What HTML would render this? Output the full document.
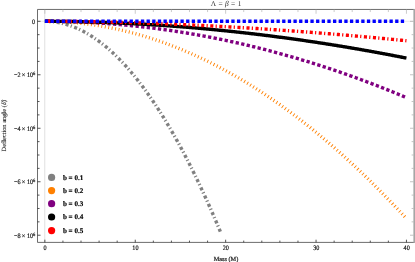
<!DOCTYPE html>
<html><head><meta charset="utf-8"><title>plot</title>
<style>html,body{margin:0;padding:0;background:#fff;}body{width:415px;height:262px;position:relative;overflow:hidden;font-family:"Liberation Serif",serif;}svg text{text-rendering:geometricPrecision;}</style>
</head><body>
<svg width="415" height="262" viewBox="0 0 415 262" style="position:absolute;left:0;top:0;will-change:transform;opacity:0.999">
<rect x="0" y="0" width="415" height="262" fill="#fff"/>
<line x1="44.75" y1="9.45" x2="44.75" y2="242.40" stroke="#d8d8d8" stroke-width="0.8"/>
<line x1="37.50" y1="21.30" x2="413.40" y2="21.30" stroke="#d8d8d8" stroke-width="0.6"/>
<path d="M44.85,21.30 L45.29,21.30 L45.73,21.31 L46.17,21.31 L46.61,21.32 L47.05,21.33 L47.49,21.35 L47.93,21.36 L48.38,21.38 L48.82,21.41 L49.26,21.43 L49.70,21.46 L50.14,21.49 L50.58,21.52 L51.02,21.56 L51.46,21.60 L51.90,21.64 L52.34,21.68 L52.78,21.73 L53.22,21.78 L53.66,21.83 L54.10,21.88 L54.55,21.94 L54.99,22.00 L55.43,22.06 L55.87,22.13 L56.31,22.20 L56.75,22.27 L57.19,22.34 L57.63,22.42 L58.07,22.49 L58.51,22.57 L58.95,22.66 L59.39,22.74 L59.83,22.83 L60.27,22.92 L60.72,23.02 L61.16,23.12 L61.60,23.21 L62.04,23.32 L62.48,23.42 L62.92,23.53 L63.36,23.64 L63.80,23.75 L64.24,23.87 L64.68,23.99 L65.12,24.11 L65.56,24.23 L66.00,24.36 L66.44,24.48 L66.88,24.62 L67.33,24.75 L67.77,24.89 L68.21,25.03 L68.65,25.17 L69.09,25.31 L69.53,25.46 L69.97,25.61 L70.41,25.76 L70.85,25.92 L71.29,26.07 L71.73,26.23 L72.17,26.40 L72.61,26.56 L73.05,26.73 L73.50,26.90 L73.94,27.08 L74.38,27.25 L74.82,27.43 L75.26,27.61 L75.70,27.80 L76.14,27.98 L76.58,28.17 L77.02,28.37 L77.46,28.56 L77.90,28.76 L78.34,28.96 L78.78,29.16 L79.22,29.37 L79.67,29.58 L80.11,29.79 L80.55,30.00 L80.99,30.22 L81.43,30.44 L81.87,30.66 L82.31,30.88 L82.75,31.11 L83.19,31.34 L83.63,31.57 L84.07,31.80 L84.51,32.04 L84.95,32.28 L85.39,32.52 L85.84,32.77 L86.28,33.02 L86.72,33.27 L87.16,33.52 L87.60,33.78 L88.04,34.04 L88.48,34.30 L88.92,34.56 L89.36,34.83 L89.80,35.10 L90.24,35.37 L90.68,35.64 L91.12,35.92 L91.56,36.20 L92.00,36.48 L92.45,36.77 L92.89,37.06 L93.33,37.35 L93.77,37.64 L94.21,37.93 L94.65,38.23 L95.09,38.53 L95.53,38.84 L95.97,39.14 L96.41,39.45 L96.85,39.76 L97.29,40.08 L97.73,40.40 L98.17,40.72 L98.62,41.04 L99.06,41.36 L99.50,41.69 L99.94,42.02 L100.38,42.35 L100.82,42.69 L101.26,43.03 L101.70,43.37 L102.14,43.71 L102.58,44.06 L103.02,44.41 L103.46,44.76 L103.90,45.11 L104.34,45.47 L104.79,45.83 L105.23,46.19 L105.67,46.55 L106.11,46.92 L106.55,47.29 L106.99,47.66 L107.43,48.04 L107.87,48.42 L108.31,48.80 L108.75,49.18 L109.19,49.57 L109.63,49.96 L110.07,50.35 L110.51,50.74 L110.95,51.14 L111.40,51.54 L111.84,51.94 L112.28,52.34 L112.72,52.75 L113.16,53.16 L113.60,53.57 L114.04,53.99 L114.48,54.41 L114.92,54.83 L115.36,55.25 L115.80,55.67 L116.24,56.10 L116.68,56.53 L117.12,56.97 L117.57,57.40 L118.01,57.84 L118.45,58.28 L118.89,58.73 L119.33,59.18 L119.77,59.62 L120.21,60.08 L120.65,60.53 L121.09,60.99 L121.53,61.45 L121.97,61.91 L122.41,62.38 L122.85,62.85 L123.29,63.32 L123.74,63.79 L124.18,64.27 L124.62,64.75 L125.06,65.23 L125.50,65.71 L125.94,66.20 L126.38,66.69 L126.82,67.18 L127.26,67.67 L127.70,68.17 L128.14,68.67 L128.58,69.17 L129.02,69.68 L129.46,70.19 L129.91,70.70 L130.35,71.21 L130.79,71.73 L131.23,72.24 L131.67,72.77 L132.11,73.29 L132.55,73.82 L132.99,74.34 L133.43,74.88 L133.87,75.41 L134.31,75.95 L134.75,76.49 L135.19,77.03 L135.63,77.58 L136.07,78.12 L136.52,78.67 L136.96,79.23 L137.40,79.78 L137.84,80.34 L138.28,80.90 L138.72,81.46 L139.16,82.03 L139.60,82.60 L140.04,83.17 L140.48,83.75 L140.92,84.32 L141.36,84.90 L141.80,85.48 L142.24,86.07 L142.69,86.66 L143.13,87.25 L143.57,87.84 L144.01,88.43 L144.45,89.03 L144.89,89.63 L145.33,90.24 L145.77,90.84 L146.21,91.45 L146.65,92.06 L147.09,92.68 L147.53,93.29 L147.97,93.91 L148.41,94.54 L148.86,95.16 L149.30,95.79 L149.74,96.42 L150.18,97.05 L150.62,97.68 L151.06,98.32 L151.50,98.96 L151.94,99.61 L152.38,100.25 L152.82,100.90 L153.26,101.55 L153.70,102.21 L154.14,102.86 L154.58,103.52 L155.02,104.18 L155.47,104.85 L155.91,105.51 L156.35,106.18 L156.79,106.86 L157.23,107.53 L157.67,108.21 L158.11,108.89 L158.55,109.57 L158.99,110.26 L159.43,110.95 L159.87,111.64 L160.31,112.33 L160.75,113.03 L161.19,113.73 L161.64,114.43 L162.08,115.13 L162.52,115.84 L162.96,116.55 L163.40,117.26 L163.84,117.97 L164.28,118.69 L164.72,119.41 L165.16,120.13 L165.60,120.86 L166.04,121.59 L166.48,122.32 L166.92,123.05 L167.36,123.79 L167.81,124.53 L168.25,125.27 L168.69,126.01 L169.13,126.76 L169.57,127.51 L170.01,128.26 L170.45,129.01 L170.89,129.77 L171.33,130.53 L171.77,131.29 L172.21,132.06 L172.65,132.83 L173.09,133.60 L173.53,134.37 L173.98,135.15 L174.42,135.92 L174.86,136.71 L175.30,137.49 L175.74,138.28 L176.18,139.06 L176.62,139.86 L177.06,140.65 L177.50,141.45 L177.94,142.25 L178.38,143.05 L178.82,143.85 L179.26,144.66 L179.70,145.47 L180.14,146.29 L180.59,147.10 L181.03,147.92 L181.47,148.74 L181.91,149.56 L182.35,150.39 L182.79,151.22 L183.23,152.05 L183.67,152.88 L184.11,153.72 L184.55,154.56 L184.99,155.40 L185.43,156.25 L185.87,157.09 L186.31,157.94 L186.76,158.80 L187.20,159.65 L187.64,160.51 L188.08,161.37 L188.52,162.23 L188.96,163.10 L189.40,163.97 L189.84,164.84 L190.28,165.71 L190.72,166.59 L191.16,167.47 L191.60,168.35 L192.04,169.24 L192.48,170.12 L192.93,171.01 L193.37,171.91 L193.81,172.80 L194.25,173.70 L194.69,174.60 L195.13,175.50 L195.57,176.41 L196.01,177.32 L196.45,178.23 L196.89,179.14 L197.33,180.06 L197.77,180.98 L198.21,181.90 L198.65,182.82 L199.09,183.75 L199.54,184.68 L199.98,185.61 L200.42,186.55 L200.86,187.48 L201.30,188.42 L201.74,189.37 L202.18,190.31 L202.62,191.26 L203.06,192.21 L203.50,193.17 L203.94,194.12 L204.38,195.08 L204.82,196.04 L205.26,197.01 L205.71,197.97 L206.15,198.94 L206.59,199.91 L207.03,200.89 L207.47,201.87 L207.91,202.85 L208.35,203.83 L208.79,204.81 L209.23,205.80 L209.67,206.79 L210.11,207.79 L210.55,208.78 L210.99,209.78 L211.43,210.78 L211.88,211.79 L212.32,212.79 L212.76,213.80 L213.20,214.81 L213.64,215.83 L214.08,216.84 L214.52,217.86 L214.96,218.89 L215.40,219.91 L215.84,220.94 L216.28,221.97 L216.72,223.00 L217.16,224.04 L217.60,225.08 L218.05,226.12 L218.49,227.16 L218.93,228.21 L219.37,229.26 L219.81,230.31 L220.25,231.36 L220.69,232.42 L221.13,233.48" fill="none" stroke="#808080" stroke-width="3.4" stroke-dasharray="3.1 2.22 1.2 2.54" stroke-dashoffset="6.15"/>
<path d="M44.85,21.30 L45.75,21.30 L46.66,21.30 L47.56,21.31 L48.47,21.32 L49.37,21.33 L50.27,21.34 L51.18,21.36 L52.08,21.38 L52.99,21.40 L53.89,21.42 L54.79,21.45 L55.70,21.48 L56.60,21.51 L57.51,21.54 L58.41,21.58 L59.31,21.62 L60.22,21.66 L61.12,21.70 L62.03,21.75 L62.93,21.79 L63.83,21.84 L64.74,21.90 L65.64,21.95 L66.55,22.01 L67.45,22.07 L68.35,22.13 L69.26,22.20 L70.16,22.27 L71.07,22.34 L71.97,22.41 L72.87,22.49 L73.78,22.56 L74.68,22.64 L75.59,22.73 L76.49,22.81 L77.39,22.90 L78.30,22.99 L79.20,23.08 L80.11,23.18 L81.01,23.27 L81.91,23.37 L82.82,23.48 L83.72,23.58 L84.63,23.69 L85.53,23.80 L86.43,23.91 L87.34,24.02 L88.24,24.14 L89.15,24.26 L90.05,24.38 L90.95,24.51 L91.86,24.63 L92.76,24.76 L93.67,24.90 L94.57,25.03 L95.47,25.17 L96.38,25.31 L97.28,25.45 L98.19,25.59 L99.09,25.74 L99.99,25.89 L100.90,26.04 L101.80,26.19 L102.71,26.35 L103.61,26.51 L104.51,26.67 L105.42,26.84 L106.32,27.00 L107.23,27.17 L108.13,27.34 L109.03,27.52 L109.94,27.69 L110.84,27.87 L111.75,28.05 L112.65,28.24 L113.55,28.42 L114.46,28.61 L115.36,28.80 L116.27,29.00 L117.17,29.19 L118.07,29.39 L118.98,29.59 L119.88,29.79 L120.79,30.00 L121.69,30.21 L122.59,30.42 L123.50,30.63 L124.40,30.85 L125.31,31.07 L126.21,31.29 L127.11,31.51 L128.02,31.74 L128.92,31.97 L129.83,32.20 L130.73,32.43 L131.63,32.66 L132.54,32.90 L133.44,33.14 L134.35,33.39 L135.25,33.63 L136.15,33.88 L137.06,34.13 L137.96,34.38 L138.87,34.64 L139.77,34.90 L140.67,35.16 L141.58,35.42 L142.48,35.68 L143.39,35.95 L144.29,36.22 L145.19,36.49 L146.10,36.77 L147.00,37.05 L147.91,37.33 L148.81,37.61 L149.71,37.89 L150.62,38.18 L151.52,38.47 L152.43,38.76 L153.33,39.06 L154.23,39.35 L155.14,39.65 L156.04,39.96 L156.95,40.26 L157.85,40.57 L158.75,40.88 L159.66,41.19 L160.56,41.50 L161.47,41.82 L162.37,42.14 L163.27,42.46 L164.18,42.79 L165.08,43.11 L165.99,43.44 L166.89,43.77 L167.79,44.11 L168.70,44.44 L169.60,44.78 L170.51,45.13 L171.41,45.47 L172.31,45.82 L173.22,46.16 L174.12,46.52 L175.03,46.87 L175.93,47.23 L176.83,47.59 L177.74,47.95 L178.64,48.31 L179.55,48.68 L180.45,49.05 L181.35,49.42 L182.26,49.79 L183.16,50.17 L184.07,50.54 L184.97,50.93 L185.87,51.31 L186.78,51.70 L187.68,52.08 L188.59,52.47 L189.49,52.87 L190.39,53.26 L191.30,53.66 L192.20,54.06 L193.11,54.47 L194.01,54.87 L194.91,55.28 L195.82,55.69 L196.72,56.10 L197.63,56.52 L198.53,56.94 L199.43,57.36 L200.34,57.78 L201.24,58.21 L202.15,58.63 L203.05,59.06 L203.95,59.50 L204.86,59.93 L205.76,60.37 L206.67,60.81 L207.57,61.25 L208.47,61.70 L209.38,62.15 L210.28,62.60 L211.19,63.05 L212.09,63.50 L212.99,63.96 L213.90,64.42 L214.80,64.88 L215.71,65.35 L216.61,65.82 L217.51,66.29 L218.42,66.76 L219.32,67.23 L220.23,67.71 L221.13,68.19 L222.03,68.67 L222.94,69.16 L223.84,69.64 L224.75,70.13 L225.65,70.62 L226.55,71.12 L227.46,71.62 L228.36,72.12 L229.27,72.62 L230.17,73.12 L231.07,73.63 L231.98,74.14 L232.88,74.65 L233.79,75.16 L234.69,75.68 L235.59,76.20 L236.50,76.72 L237.40,77.25 L238.31,77.77 L239.21,78.30 L240.11,78.83 L241.02,79.37 L241.92,79.90 L242.83,80.44 L243.73,80.98 L244.63,81.53 L245.54,82.07 L246.44,82.62 L247.35,83.17 L248.25,83.73 L249.15,84.28 L250.06,84.84 L250.96,85.40 L251.87,85.97 L252.77,86.53 L253.67,87.10 L254.58,87.67 L255.48,88.25 L256.39,88.82 L257.29,89.40 L258.19,89.98 L259.10,90.56 L260.00,91.15 L260.91,91.74 L261.81,92.33 L262.71,92.92 L263.62,93.52 L264.52,94.11 L265.43,94.72 L266.33,95.32 L267.23,95.92 L268.14,96.53 L269.04,97.14 L269.95,97.75 L270.85,98.37 L271.75,98.99 L272.66,99.61 L273.56,100.23 L274.47,100.86 L275.37,101.48 L276.27,102.11 L277.18,102.75 L278.08,103.38 L278.99,104.02 L279.89,104.66 L280.79,105.30 L281.70,105.95 L282.60,106.59 L283.51,107.24 L284.41,107.90 L285.31,108.55 L286.22,109.21 L287.12,109.87 L288.03,110.53 L288.93,111.19 L289.83,111.86 L290.74,112.53 L291.64,113.20 L292.55,113.88 L293.45,114.56 L294.35,115.23 L295.26,115.92 L296.16,116.60 L297.07,117.29 L297.97,117.98 L298.87,118.67 L299.78,119.36 L300.68,120.06 L301.59,120.76 L302.49,121.46 L303.39,122.16 L304.30,122.87 L305.20,123.58 L306.11,124.29 L307.01,125.01 L307.91,125.72 L308.82,126.44 L309.72,127.16 L310.63,127.89 L311.53,128.61 L312.43,129.34 L313.34,130.07 L314.24,130.81 L315.15,131.54 L316.05,132.28 L316.95,133.02 L317.86,133.77 L318.76,134.51 L319.67,135.26 L320.57,136.01 L321.47,136.76 L322.38,137.52 L323.28,138.28 L324.19,139.04 L325.09,139.80 L325.99,140.57 L326.90,141.34 L327.80,142.11 L328.71,142.88 L329.61,143.66 L330.51,144.43 L331.42,145.22 L332.32,146.00 L333.23,146.78 L334.13,147.57 L335.03,148.36 L335.94,149.16 L336.84,149.95 L337.75,150.75 L338.65,151.55 L339.55,152.35 L340.46,153.16 L341.36,153.96 L342.27,154.77 L343.17,155.59 L344.07,156.40 L344.98,157.22 L345.88,158.04 L346.79,158.86 L347.69,159.69 L348.59,160.51 L349.50,161.34 L350.40,162.18 L351.31,163.01 L352.21,163.85 L353.11,164.69 L354.02,165.53 L354.92,166.38 L355.83,167.22 L356.73,168.07 L357.63,168.92 L358.54,169.78 L359.44,170.64 L360.35,171.50 L361.25,172.36 L362.15,173.22 L363.06,174.09 L363.96,174.96 L364.87,175.83 L365.77,176.70 L366.67,177.58 L367.58,178.46 L368.48,179.34 L369.39,180.23 L370.29,181.11 L371.19,182.00 L372.10,182.89 L373.00,183.79 L373.91,184.68 L374.81,185.58 L375.71,186.48 L376.62,187.39 L377.52,188.29 L378.43,189.20 L379.33,190.11 L380.23,191.03 L381.14,191.94 L382.04,192.86 L382.95,193.78 L383.85,194.71 L384.75,195.63 L385.66,196.56 L386.56,197.49 L387.47,198.43 L388.37,199.36 L389.27,200.30 L390.18,201.24 L391.08,202.19 L391.99,203.13 L392.89,204.08 L393.79,205.03 L394.70,205.98 L395.60,206.94 L396.51,207.90 L397.41,208.86 L398.31,209.82 L399.22,210.79 L400.12,211.75 L401.03,212.73 L401.93,213.70 L402.83,214.67 L403.74,215.65 L404.64,216.63 L405.55,217.61 L406.45,218.60" fill="none" stroke="#ff8000" stroke-width="3.4" stroke-dasharray="0.9 2.6" stroke-dashoffset="2.71"/>
<path d="M44.85,21.30 L45.75,21.30 L46.66,21.30 L47.56,21.30 L48.47,21.31 L49.37,21.31 L50.27,21.32 L51.18,21.32 L52.08,21.33 L52.99,21.34 L53.89,21.35 L54.79,21.36 L55.70,21.37 L56.60,21.38 L57.51,21.39 L58.41,21.41 L59.31,21.42 L60.22,21.44 L61.12,21.45 L62.03,21.47 L62.93,21.49 L63.83,21.51 L64.74,21.53 L65.64,21.55 L66.55,21.57 L67.45,21.60 L68.35,21.62 L69.26,21.65 L70.16,21.67 L71.07,21.70 L71.97,21.73 L72.87,21.76 L73.78,21.79 L74.68,21.82 L75.59,21.85 L76.49,21.88 L77.39,21.92 L78.30,21.95 L79.20,21.99 L80.11,22.03 L81.01,22.06 L81.91,22.10 L82.82,22.14 L83.72,22.18 L84.63,22.22 L85.53,22.27 L86.43,22.31 L87.34,22.35 L88.24,22.40 L89.15,22.44 L90.05,22.49 L90.95,22.54 L91.86,22.59 L92.76,22.64 L93.67,22.69 L94.57,22.74 L95.47,22.80 L96.38,22.85 L97.28,22.90 L98.19,22.96 L99.09,23.02 L99.99,23.07 L100.90,23.13 L101.80,23.19 L102.71,23.25 L103.61,23.31 L104.51,23.38 L105.42,23.44 L106.32,23.51 L107.23,23.57 L108.13,23.64 L109.03,23.70 L109.94,23.77 L110.84,23.84 L111.75,23.91 L112.65,23.98 L113.55,24.05 L114.46,24.13 L115.36,24.20 L116.27,24.28 L117.17,24.35 L118.07,24.43 L118.98,24.51 L119.88,24.59 L120.79,24.66 L121.69,24.75 L122.59,24.83 L123.50,24.91 L124.40,24.99 L125.31,25.08 L126.21,25.16 L127.11,25.25 L128.02,25.34 L128.92,25.42 L129.83,25.51 L130.73,25.60 L131.63,25.69 L132.54,25.79 L133.44,25.88 L134.35,25.97 L135.25,26.07 L136.15,26.16 L137.06,26.26 L137.96,26.36 L138.87,26.46 L139.77,26.56 L140.67,26.66 L141.58,26.76 L142.48,26.86 L143.39,26.97 L144.29,27.07 L145.19,27.18 L146.10,27.28 L147.00,27.39 L147.91,27.50 L148.81,27.61 L149.71,27.72 L150.62,27.83 L151.52,27.94 L152.43,28.05 L153.33,28.17 L154.23,28.28 L155.14,28.40 L156.04,28.51 L156.95,28.63 L157.85,28.75 L158.75,28.87 L159.66,28.99 L160.56,29.11 L161.47,29.24 L162.37,29.36 L163.27,29.48 L164.18,29.61 L165.08,29.74 L165.99,29.86 L166.89,29.99 L167.79,30.12 L168.70,30.25 L169.60,30.38 L170.51,30.51 L171.41,30.65 L172.31,30.78 L173.22,30.92 L174.12,31.05 L175.03,31.19 L175.93,31.33 L176.83,31.47 L177.74,31.60 L178.64,31.75 L179.55,31.89 L180.45,32.03 L181.35,32.17 L182.26,32.32 L183.16,32.46 L184.07,32.61 L184.97,32.76 L185.87,32.91 L186.78,33.05 L187.68,33.20 L188.59,33.36 L189.49,33.51 L190.39,33.66 L191.30,33.82 L192.20,33.97 L193.11,34.13 L194.01,34.28 L194.91,34.44 L195.82,34.60 L196.72,34.76 L197.63,34.92 L198.53,35.08 L199.43,35.24 L200.34,35.41 L201.24,35.57 L202.15,35.74 L203.05,35.90 L203.95,36.07 L204.86,36.24 L205.76,36.41 L206.67,36.58 L207.57,36.75 L208.47,36.92 L209.38,37.10 L210.28,37.27 L211.19,37.45 L212.09,37.62 L212.99,37.80 L213.90,37.98 L214.80,38.15 L215.71,38.33 L216.61,38.52 L217.51,38.70 L218.42,38.88 L219.32,39.06 L220.23,39.25 L221.13,39.43 L222.03,39.62 L222.94,39.81 L223.84,40.00 L224.75,40.18 L225.65,40.38 L226.55,40.57 L227.46,40.76 L228.36,40.95 L229.27,41.15 L230.17,41.34 L231.07,41.54 L231.98,41.73 L232.88,41.93 L233.79,42.13 L234.69,42.33 L235.59,42.53 L236.50,42.73 L237.40,42.94 L238.31,43.14 L239.21,43.34 L240.11,43.55 L241.02,43.76 L241.92,43.96 L242.83,44.17 L243.73,44.38 L244.63,44.59 L245.54,44.80 L246.44,45.01 L247.35,45.23 L248.25,45.44 L249.15,45.66 L250.06,45.87 L250.96,46.09 L251.87,46.31 L252.77,46.53 L253.67,46.75 L254.58,46.97 L255.48,47.19 L256.39,47.41 L257.29,47.64 L258.19,47.86 L259.10,48.09 L260.00,48.31 L260.91,48.54 L261.81,48.77 L262.71,49.00 L263.62,49.23 L264.52,49.46 L265.43,49.69 L266.33,49.92 L267.23,50.16 L268.14,50.39 L269.04,50.63 L269.95,50.87 L270.85,51.10 L271.75,51.34 L272.66,51.58 L273.56,51.82 L274.47,52.07 L275.37,52.31 L276.27,52.55 L277.18,52.80 L278.08,53.04 L278.99,53.29 L279.89,53.54 L280.79,53.79 L281.70,54.03 L282.60,54.28 L283.51,54.54 L284.41,54.79 L285.31,55.04 L286.22,55.30 L287.12,55.55 L288.03,55.81 L288.93,56.06 L289.83,56.32 L290.74,56.58 L291.64,56.84 L292.55,57.10 L293.45,57.36 L294.35,57.63 L295.26,57.89 L296.16,58.15 L297.07,58.42 L297.97,58.69 L298.87,58.95 L299.78,59.22 L300.68,59.49 L301.59,59.76 L302.49,60.03 L303.39,60.31 L304.30,60.58 L305.20,60.85 L306.11,61.13 L307.01,61.41 L307.91,61.68 L308.82,61.96 L309.72,62.24 L310.63,62.52 L311.53,62.80 L312.43,63.08 L313.34,63.36 L314.24,63.65 L315.15,63.93 L316.05,64.22 L316.95,64.51 L317.86,64.79 L318.76,65.08 L319.67,65.37 L320.57,65.66 L321.47,65.95 L322.38,66.24 L323.28,66.54 L324.19,66.83 L325.09,67.13 L325.99,67.42 L326.90,67.72 L327.80,68.02 L328.71,68.32 L329.61,68.62 L330.51,68.92 L331.42,69.22 L332.32,69.52 L333.23,69.83 L334.13,70.13 L335.03,70.44 L335.94,70.74 L336.84,71.05 L337.75,71.36 L338.65,71.67 L339.55,71.98 L340.46,72.29 L341.36,72.60 L342.27,72.92 L343.17,73.23 L344.07,73.55 L344.98,73.86 L345.88,74.18 L346.79,74.50 L347.69,74.82 L348.59,75.14 L349.50,75.46 L350.40,75.78 L351.31,76.10 L352.21,76.43 L353.11,76.75 L354.02,77.08 L354.92,77.40 L355.83,77.73 L356.73,78.06 L357.63,78.39 L358.54,78.72 L359.44,79.05 L360.35,79.38 L361.25,79.72 L362.15,80.05 L363.06,80.39 L363.96,80.72 L364.87,81.06 L365.77,81.40 L366.67,81.74 L367.58,82.08 L368.48,82.42 L369.39,82.76 L370.29,83.10 L371.19,83.45 L372.10,83.79 L373.00,84.14 L373.91,84.48 L374.81,84.83 L375.71,85.18 L376.62,85.53 L377.52,85.88 L378.43,86.23 L379.33,86.58 L380.23,86.94 L381.14,87.29 L382.04,87.65 L382.95,88.00 L383.85,88.36 L384.75,88.72 L385.66,89.08 L386.56,89.44 L387.47,89.80 L388.37,90.16 L389.27,90.52 L390.18,90.89 L391.08,91.25 L391.99,91.62 L392.89,91.98 L393.79,92.35 L394.70,92.72 L395.60,93.09 L396.51,93.46 L397.41,93.83 L398.31,94.21 L399.22,94.58 L400.12,94.95 L401.03,95.33 L401.93,95.70 L402.83,96.08 L403.74,96.46 L404.64,96.84 L405.55,97.22 L406.45,97.60" fill="none" stroke="#800080" stroke-width="3.4" stroke-dasharray="3.3 2.34" stroke-dashoffset="5.05"/>
<path d="M44.85,21.30 L45.75,21.30 L46.66,21.30 L47.56,21.30 L48.47,21.30 L49.37,21.31 L50.27,21.31 L51.18,21.31 L52.08,21.32 L52.99,21.32 L53.89,21.33 L54.79,21.33 L55.70,21.34 L56.60,21.35 L57.51,21.35 L58.41,21.36 L59.31,21.37 L60.22,21.38 L61.12,21.39 L62.03,21.40 L62.93,21.41 L63.83,21.42 L64.74,21.43 L65.64,21.44 L66.55,21.45 L67.45,21.47 L68.35,21.48 L69.26,21.49 L70.16,21.51 L71.07,21.52 L71.97,21.54 L72.87,21.55 L73.78,21.57 L74.68,21.58 L75.59,21.60 L76.49,21.62 L77.39,21.64 L78.30,21.65 L79.20,21.67 L80.11,21.69 L81.01,21.71 L81.91,21.73 L82.82,21.75 L83.72,21.78 L84.63,21.80 L85.53,21.82 L86.43,21.84 L87.34,21.87 L88.24,21.89 L89.15,21.91 L90.05,21.94 L90.95,21.96 L91.86,21.99 L92.76,22.01 L93.67,22.04 L94.57,22.07 L95.47,22.10 L96.38,22.12 L97.28,22.15 L98.19,22.18 L99.09,22.21 L99.99,22.24 L100.90,22.27 L101.80,22.30 L102.71,22.33 L103.61,22.36 L104.51,22.40 L105.42,22.43 L106.32,22.46 L107.23,22.50 L108.13,22.53 L109.03,22.56 L109.94,22.60 L110.84,22.63 L111.75,22.67 L112.65,22.71 L113.55,22.74 L114.46,22.78 L115.36,22.82 L116.27,22.86 L117.17,22.90 L118.07,22.93 L118.98,22.97 L119.88,23.01 L120.79,23.05 L121.69,23.10 L122.59,23.14 L123.50,23.18 L124.40,23.22 L125.31,23.26 L126.21,23.31 L127.11,23.35 L128.02,23.40 L128.92,23.44 L129.83,23.48 L130.73,23.53 L131.63,23.58 L132.54,23.62 L133.44,23.67 L134.35,23.72 L135.25,23.77 L136.15,23.81 L137.06,23.86 L137.96,23.91 L138.87,23.96 L139.77,24.01 L140.67,24.06 L141.58,24.11 L142.48,24.16 L143.39,24.22 L144.29,24.27 L145.19,24.32 L146.10,24.37 L147.00,24.43 L147.91,24.48 L148.81,24.54 L149.71,24.59 L150.62,24.65 L151.52,24.70 L152.43,24.76 L153.33,24.82 L154.23,24.87 L155.14,24.93 L156.04,24.99 L156.95,25.05 L157.85,25.11 L158.75,25.17 L159.66,25.23 L160.56,25.29 L161.47,25.35 L162.37,25.41 L163.27,25.47 L164.18,25.54 L165.08,25.60 L165.99,25.66 L166.89,25.73 L167.79,25.79 L168.70,25.85 L169.60,25.92 L170.51,25.99 L171.41,26.05 L172.31,26.12 L173.22,26.18 L174.12,26.25 L175.03,26.32 L175.93,26.39 L176.83,26.46 L177.74,26.53 L178.64,26.59 L179.55,26.66 L180.45,26.74 L181.35,26.81 L182.26,26.88 L183.16,26.95 L184.07,27.02 L184.97,27.09 L185.87,27.17 L186.78,27.24 L187.68,27.31 L188.59,27.39 L189.49,27.46 L190.39,27.54 L191.30,27.62 L192.20,27.69 L193.11,27.77 L194.01,27.85 L194.91,27.92 L195.82,28.00 L196.72,28.08 L197.63,28.16 L198.53,28.24 L199.43,28.32 L200.34,28.40 L201.24,28.48 L202.15,28.56 L203.05,28.64 L203.95,28.72 L204.86,28.81 L205.76,28.89 L206.67,28.97 L207.57,29.06 L208.47,29.14 L209.38,29.22 L210.28,29.31 L211.19,29.40 L212.09,29.48 L212.99,29.57 L213.90,29.65 L214.80,29.74 L215.71,29.83 L216.61,29.92 L217.51,30.01 L218.42,30.10 L219.32,30.19 L220.23,30.28 L221.13,30.37 L222.03,30.46 L222.94,30.55 L223.84,30.64 L224.75,30.73 L225.65,30.82 L226.55,30.92 L227.46,31.01 L228.36,31.11 L229.27,31.20 L230.17,31.29 L231.07,31.39 L231.98,31.49 L232.88,31.58 L233.79,31.68 L234.69,31.78 L235.59,31.87 L236.50,31.97 L237.40,32.07 L238.31,32.17 L239.21,32.27 L240.11,32.37 L241.02,32.47 L241.92,32.57 L242.83,32.67 L243.73,32.77 L244.63,32.87 L245.54,32.97 L246.44,33.08 L247.35,33.18 L248.25,33.28 L249.15,33.39 L250.06,33.49 L250.96,33.60 L251.87,33.70 L252.77,33.81 L253.67,33.91 L254.58,34.02 L255.48,34.13 L256.39,34.24 L257.29,34.34 L258.19,34.45 L259.10,34.56 L260.00,34.67 L260.91,34.78 L261.81,34.89 L262.71,35.00 L263.62,35.11 L264.52,35.22 L265.43,35.34 L266.33,35.45 L267.23,35.56 L268.14,35.67 L269.04,35.79 L269.95,35.90 L270.85,36.02 L271.75,36.13 L272.66,36.25 L273.56,36.36 L274.47,36.48 L275.37,36.60 L276.27,36.71 L277.18,36.83 L278.08,36.95 L278.99,37.07 L279.89,37.19 L280.79,37.31 L281.70,37.43 L282.60,37.55 L283.51,37.67 L284.41,37.79 L285.31,37.91 L286.22,38.03 L287.12,38.15 L288.03,38.28 L288.93,38.40 L289.83,38.52 L290.74,38.65 L291.64,38.77 L292.55,38.90 L293.45,39.02 L294.35,39.15 L295.26,39.27 L296.16,39.40 L297.07,39.53 L297.97,39.66 L298.87,39.78 L299.78,39.91 L300.68,40.04 L301.59,40.17 L302.49,40.30 L303.39,40.43 L304.30,40.56 L305.20,40.69 L306.11,40.82 L307.01,40.96 L307.91,41.09 L308.82,41.22 L309.72,41.36 L310.63,41.49 L311.53,41.62 L312.43,41.76 L313.34,41.89 L314.24,42.03 L315.15,42.16 L316.05,42.30 L316.95,42.44 L317.86,42.57 L318.76,42.71 L319.67,42.85 L320.57,42.99 L321.47,43.13 L322.38,43.27 L323.28,43.41 L324.19,43.55 L325.09,43.69 L325.99,43.83 L326.90,43.97 L327.80,44.11 L328.71,44.25 L329.61,44.40 L330.51,44.54 L331.42,44.68 L332.32,44.83 L333.23,44.97 L334.13,45.12 L335.03,45.26 L335.94,45.41 L336.84,45.55 L337.75,45.70 L338.65,45.85 L339.55,45.99 L340.46,46.14 L341.36,46.29 L342.27,46.44 L343.17,46.59 L344.07,46.74 L344.98,46.89 L345.88,47.04 L346.79,47.19 L347.69,47.34 L348.59,47.49 L349.50,47.65 L350.40,47.80 L351.31,47.95 L352.21,48.10 L353.11,48.26 L354.02,48.41 L354.92,48.57 L355.83,48.72 L356.73,48.88 L357.63,49.04 L358.54,49.19 L359.44,49.35 L360.35,49.51 L361.25,49.66 L362.15,49.82 L363.06,49.98 L363.96,50.14 L364.87,50.30 L365.77,50.46 L366.67,50.62 L367.58,50.78 L368.48,50.94 L369.39,51.10 L370.29,51.27 L371.19,51.43 L372.10,51.59 L373.00,51.75 L373.91,51.92 L374.81,52.08 L375.71,52.25 L376.62,52.41 L377.52,52.58 L378.43,52.74 L379.33,52.91 L380.23,53.08 L381.14,53.24 L382.04,53.41 L382.95,53.58 L383.85,53.75 L384.75,53.92 L385.66,54.09 L386.56,54.26 L387.47,54.43 L388.37,54.60 L389.27,54.77 L390.18,54.94 L391.08,55.11 L391.99,55.28 L392.89,55.46 L393.79,55.63 L394.70,55.80 L395.60,55.98 L396.51,56.15 L397.41,56.33 L398.31,56.50 L399.22,56.68 L400.12,56.85 L401.03,57.03 L401.93,57.21 L402.83,57.39 L403.74,57.56 L404.64,57.74 L405.55,57.92 L406.45,58.10" fill="none" stroke="#000000" stroke-width="3.4" />
<path d="M44.85,21.30 L45.75,21.30 L46.66,21.30 L47.56,21.30 L48.47,21.30 L49.37,21.31 L50.27,21.31 L51.18,21.31 L52.08,21.31 L52.99,21.32 L53.89,21.32 L54.79,21.33 L55.70,21.33 L56.60,21.33 L57.51,21.34 L58.41,21.34 L59.31,21.35 L60.22,21.36 L61.12,21.36 L62.03,21.37 L62.93,21.38 L63.83,21.38 L64.74,21.39 L65.64,21.40 L66.55,21.41 L67.45,21.42 L68.35,21.42 L69.26,21.43 L70.16,21.44 L71.07,21.45 L71.97,21.46 L72.87,21.47 L73.78,21.48 L74.68,21.49 L75.59,21.50 L76.49,21.51 L77.39,21.53 L78.30,21.54 L79.20,21.55 L80.11,21.56 L81.01,21.57 L81.91,21.59 L82.82,21.60 L83.72,21.61 L84.63,21.63 L85.53,21.64 L86.43,21.66 L87.34,21.67 L88.24,21.68 L89.15,21.70 L90.05,21.72 L90.95,21.73 L91.86,21.75 L92.76,21.76 L93.67,21.78 L94.57,21.80 L95.47,21.81 L96.38,21.83 L97.28,21.85 L98.19,21.86 L99.09,21.88 L99.99,21.90 L100.90,21.92 L101.80,21.94 L102.71,21.96 L103.61,21.97 L104.51,21.99 L105.42,22.01 L106.32,22.03 L107.23,22.05 L108.13,22.07 L109.03,22.09 L109.94,22.12 L110.84,22.14 L111.75,22.16 L112.65,22.18 L113.55,22.20 L114.46,22.22 L115.36,22.25 L116.27,22.27 L117.17,22.29 L118.07,22.31 L118.98,22.34 L119.88,22.36 L120.79,22.38 L121.69,22.41 L122.59,22.43 L123.50,22.46 L124.40,22.48 L125.31,22.51 L126.21,22.53 L127.11,22.56 L128.02,22.58 L128.92,22.61 L129.83,22.63 L130.73,22.66 L131.63,22.69 L132.54,22.71 L133.44,22.74 L134.35,22.77 L135.25,22.80 L136.15,22.82 L137.06,22.85 L137.96,22.88 L138.87,22.91 L139.77,22.94 L140.67,22.97 L141.58,23.00 L142.48,23.03 L143.39,23.06 L144.29,23.09 L145.19,23.12 L146.10,23.15 L147.00,23.18 L147.91,23.21 L148.81,23.24 L149.71,23.27 L150.62,23.30 L151.52,23.33 L152.43,23.36 L153.33,23.40 L154.23,23.43 L155.14,23.46 L156.04,23.49 L156.95,23.53 L157.85,23.56 L158.75,23.60 L159.66,23.63 L160.56,23.66 L161.47,23.70 L162.37,23.73 L163.27,23.77 L164.18,23.80 L165.08,23.84 L165.99,23.87 L166.89,23.91 L167.79,23.94 L168.70,23.98 L169.60,24.02 L170.51,24.05 L171.41,24.09 L172.31,24.13 L173.22,24.16 L174.12,24.20 L175.03,24.24 L175.93,24.28 L176.83,24.31 L177.74,24.35 L178.64,24.39 L179.55,24.43 L180.45,24.47 L181.35,24.51 L182.26,24.55 L183.16,24.59 L184.07,24.63 L184.97,24.67 L185.87,24.71 L186.78,24.75 L187.68,24.79 L188.59,24.83 L189.49,24.87 L190.39,24.91 L191.30,24.95 L192.20,25.00 L193.11,25.04 L194.01,25.08 L194.91,25.12 L195.82,25.16 L196.72,25.21 L197.63,25.25 L198.53,25.29 L199.43,25.34 L200.34,25.38 L201.24,25.43 L202.15,25.47 L203.05,25.51 L203.95,25.56 L204.86,25.60 L205.76,25.65 L206.67,25.69 L207.57,25.74 L208.47,25.79 L209.38,25.83 L210.28,25.88 L211.19,25.92 L212.09,25.97 L212.99,26.02 L213.90,26.06 L214.80,26.11 L215.71,26.16 L216.61,26.21 L217.51,26.25 L218.42,26.30 L219.32,26.35 L220.23,26.40 L221.13,26.45 L222.03,26.50 L222.94,26.55 L223.84,26.60 L224.75,26.65 L225.65,26.70 L226.55,26.75 L227.46,26.80 L228.36,26.85 L229.27,26.90 L230.17,26.95 L231.07,27.00 L231.98,27.05 L232.88,27.10 L233.79,27.15 L234.69,27.20 L235.59,27.26 L236.50,27.31 L237.40,27.36 L238.31,27.41 L239.21,27.47 L240.11,27.52 L241.02,27.57 L241.92,27.63 L242.83,27.68 L243.73,27.74 L244.63,27.79 L245.54,27.84 L246.44,27.90 L247.35,27.95 L248.25,28.01 L249.15,28.06 L250.06,28.12 L250.96,28.18 L251.87,28.23 L252.77,28.29 L253.67,28.34 L254.58,28.40 L255.48,28.46 L256.39,28.51 L257.29,28.57 L258.19,28.63 L259.10,28.69 L260.00,28.74 L260.91,28.80 L261.81,28.86 L262.71,28.92 L263.62,28.98 L264.52,29.04 L265.43,29.09 L266.33,29.15 L267.23,29.21 L268.14,29.27 L269.04,29.33 L269.95,29.39 L270.85,29.45 L271.75,29.51 L272.66,29.57 L273.56,29.63 L274.47,29.70 L275.37,29.76 L276.27,29.82 L277.18,29.88 L278.08,29.94 L278.99,30.00 L279.89,30.07 L280.79,30.13 L281.70,30.19 L282.60,30.25 L283.51,30.32 L284.41,30.38 L285.31,30.44 L286.22,30.51 L287.12,30.57 L288.03,30.64 L288.93,30.70 L289.83,30.76 L290.74,30.83 L291.64,30.89 L292.55,30.96 L293.45,31.02 L294.35,31.09 L295.26,31.16 L296.16,31.22 L297.07,31.29 L297.97,31.35 L298.87,31.42 L299.78,31.49 L300.68,31.55 L301.59,31.62 L302.49,31.69 L303.39,31.76 L304.30,31.82 L305.20,31.89 L306.11,31.96 L307.01,32.03 L307.91,32.10 L308.82,32.17 L309.72,32.23 L310.63,32.30 L311.53,32.37 L312.43,32.44 L313.34,32.51 L314.24,32.58 L315.15,32.65 L316.05,32.72 L316.95,32.79 L317.86,32.86 L318.76,32.94 L319.67,33.01 L320.57,33.08 L321.47,33.15 L322.38,33.22 L323.28,33.29 L324.19,33.37 L325.09,33.44 L325.99,33.51 L326.90,33.58 L327.80,33.66 L328.71,33.73 L329.61,33.80 L330.51,33.88 L331.42,33.95 L332.32,34.02 L333.23,34.10 L334.13,34.17 L335.03,34.25 L335.94,34.32 L336.84,34.40 L337.75,34.47 L338.65,34.55 L339.55,34.62 L340.46,34.70 L341.36,34.77 L342.27,34.85 L343.17,34.93 L344.07,35.00 L344.98,35.08 L345.88,35.16 L346.79,35.23 L347.69,35.31 L348.59,35.39 L349.50,35.47 L350.40,35.54 L351.31,35.62 L352.21,35.70 L353.11,35.78 L354.02,35.86 L354.92,35.94 L355.83,36.01 L356.73,36.09 L357.63,36.17 L358.54,36.25 L359.44,36.33 L360.35,36.41 L361.25,36.49 L362.15,36.57 L363.06,36.65 L363.96,36.73 L364.87,36.82 L365.77,36.90 L366.67,36.98 L367.58,37.06 L368.48,37.14 L369.39,37.22 L370.29,37.31 L371.19,37.39 L372.10,37.47 L373.00,37.55 L373.91,37.64 L374.81,37.72 L375.71,37.80 L376.62,37.89 L377.52,37.97 L378.43,38.05 L379.33,38.14 L380.23,38.22 L381.14,38.31 L382.04,38.39 L382.95,38.48 L383.85,38.56 L384.75,38.65 L385.66,38.73 L386.56,38.82 L387.47,38.90 L388.37,38.99 L389.27,39.08 L390.18,39.16 L391.08,39.25 L391.99,39.34 L392.89,39.42 L393.79,39.51 L394.70,39.60 L395.60,39.68 L396.51,39.77 L397.41,39.86 L398.31,39.95 L399.22,40.04 L400.12,40.12 L401.03,40.21 L401.93,40.30 L402.83,40.39 L403.74,40.48 L404.64,40.57 L405.55,40.66 L406.45,40.75" fill="none" stroke="#ff0000" stroke-width="3.4" stroke-dasharray="3.1 2.22 1.2 2.54" stroke-dashoffset="6.64"/>
<path d="M44.85,21.30 L45.75,21.30 L46.66,21.30 L47.56,21.30 L48.47,21.30 L49.37,21.30 L50.27,21.30 L51.18,21.30 L52.08,21.30 L52.99,21.30 L53.89,21.30 L54.79,21.30 L55.70,21.30 L56.60,21.30 L57.51,21.30 L58.41,21.30 L59.31,21.30 L60.22,21.30 L61.12,21.30 L62.03,21.30 L62.93,21.30 L63.83,21.30 L64.74,21.30 L65.64,21.30 L66.55,21.30 L67.45,21.30 L68.35,21.30 L69.26,21.30 L70.16,21.30 L71.07,21.30 L71.97,21.30 L72.87,21.30 L73.78,21.30 L74.68,21.30 L75.59,21.30 L76.49,21.30 L77.39,21.30 L78.30,21.30 L79.20,21.30 L80.11,21.30 L81.01,21.30 L81.91,21.30 L82.82,21.30 L83.72,21.30 L84.63,21.30 L85.53,21.30 L86.43,21.30 L87.34,21.30 L88.24,21.30 L89.15,21.30 L90.05,21.30 L90.95,21.30 L91.86,21.30 L92.76,21.30 L93.67,21.30 L94.57,21.30 L95.47,21.30 L96.38,21.30 L97.28,21.30 L98.19,21.30 L99.09,21.30 L99.99,21.30 L100.90,21.30 L101.80,21.30 L102.71,21.30 L103.61,21.30 L104.51,21.30 L105.42,21.30 L106.32,21.30 L107.23,21.30 L108.13,21.30 L109.03,21.30 L109.94,21.30 L110.84,21.30 L111.75,21.30 L112.65,21.30 L113.55,21.30 L114.46,21.30 L115.36,21.30 L116.27,21.30 L117.17,21.30 L118.07,21.30 L118.98,21.30 L119.88,21.30 L120.79,21.30 L121.69,21.30 L122.59,21.30 L123.50,21.30 L124.40,21.30 L125.31,21.30 L126.21,21.30 L127.11,21.30 L128.02,21.30 L128.92,21.30 L129.83,21.30 L130.73,21.30 L131.63,21.30 L132.54,21.30 L133.44,21.30 L134.35,21.30 L135.25,21.30 L136.15,21.30 L137.06,21.30 L137.96,21.30 L138.87,21.30 L139.77,21.30 L140.67,21.30 L141.58,21.30 L142.48,21.30 L143.39,21.30 L144.29,21.30 L145.19,21.30 L146.10,21.30 L147.00,21.30 L147.91,21.30 L148.81,21.30 L149.71,21.30 L150.62,21.30 L151.52,21.30 L152.43,21.30 L153.33,21.30 L154.23,21.30 L155.14,21.30 L156.04,21.30 L156.95,21.30 L157.85,21.30 L158.75,21.30 L159.66,21.30 L160.56,21.30 L161.47,21.30 L162.37,21.30 L163.27,21.30 L164.18,21.30 L165.08,21.30 L165.99,21.30 L166.89,21.30 L167.79,21.30 L168.70,21.30 L169.60,21.30 L170.51,21.30 L171.41,21.30 L172.31,21.30 L173.22,21.30 L174.12,21.30 L175.03,21.30 L175.93,21.30 L176.83,21.30 L177.74,21.30 L178.64,21.30 L179.55,21.30 L180.45,21.30 L181.35,21.30 L182.26,21.30 L183.16,21.30 L184.07,21.30 L184.97,21.30 L185.87,21.30 L186.78,21.30 L187.68,21.30 L188.59,21.30 L189.49,21.30 L190.39,21.30 L191.30,21.30 L192.20,21.30 L193.11,21.30 L194.01,21.30 L194.91,21.30 L195.82,21.30 L196.72,21.30 L197.63,21.30 L198.53,21.30 L199.43,21.30 L200.34,21.30 L201.24,21.30 L202.15,21.30 L203.05,21.30 L203.95,21.30 L204.86,21.30 L205.76,21.30 L206.67,21.30 L207.57,21.30 L208.47,21.30 L209.38,21.30 L210.28,21.30 L211.19,21.30 L212.09,21.30 L212.99,21.30 L213.90,21.30 L214.80,21.30 L215.71,21.30 L216.61,21.30 L217.51,21.30 L218.42,21.30 L219.32,21.30 L220.23,21.30 L221.13,21.30 L222.03,21.30 L222.94,21.30 L223.84,21.30 L224.75,21.30 L225.65,21.30 L226.55,21.30 L227.46,21.30 L228.36,21.30 L229.27,21.30 L230.17,21.30 L231.07,21.30 L231.98,21.30 L232.88,21.30 L233.79,21.30 L234.69,21.30 L235.59,21.30 L236.50,21.30 L237.40,21.30 L238.31,21.30 L239.21,21.30 L240.11,21.30 L241.02,21.30 L241.92,21.30 L242.83,21.30 L243.73,21.30 L244.63,21.30 L245.54,21.30 L246.44,21.30 L247.35,21.30 L248.25,21.30 L249.15,21.30 L250.06,21.30 L250.96,21.30 L251.87,21.30 L252.77,21.30 L253.67,21.30 L254.58,21.30 L255.48,21.30 L256.39,21.30 L257.29,21.30 L258.19,21.30 L259.10,21.30 L260.00,21.30 L260.91,21.30 L261.81,21.30 L262.71,21.30 L263.62,21.30 L264.52,21.30 L265.43,21.30 L266.33,21.30 L267.23,21.30 L268.14,21.30 L269.04,21.30 L269.95,21.30 L270.85,21.30 L271.75,21.30 L272.66,21.30 L273.56,21.30 L274.47,21.30 L275.37,21.30 L276.27,21.30 L277.18,21.30 L278.08,21.30 L278.99,21.30 L279.89,21.30 L280.79,21.30 L281.70,21.30 L282.60,21.30 L283.51,21.30 L284.41,21.30 L285.31,21.30 L286.22,21.30 L287.12,21.30 L288.03,21.30 L288.93,21.30 L289.83,21.30 L290.74,21.30 L291.64,21.30 L292.55,21.30 L293.45,21.30 L294.35,21.30 L295.26,21.30 L296.16,21.30 L297.07,21.30 L297.97,21.30 L298.87,21.30 L299.78,21.30 L300.68,21.30 L301.59,21.30 L302.49,21.30 L303.39,21.30 L304.30,21.30 L305.20,21.30 L306.11,21.30 L307.01,21.30 L307.91,21.30 L308.82,21.30 L309.72,21.30 L310.63,21.30 L311.53,21.30 L312.43,21.30 L313.34,21.30 L314.24,21.30 L315.15,21.30 L316.05,21.30 L316.95,21.30 L317.86,21.30 L318.76,21.30 L319.67,21.30 L320.57,21.30 L321.47,21.30 L322.38,21.30 L323.28,21.30 L324.19,21.30 L325.09,21.30 L325.99,21.30 L326.90,21.30 L327.80,21.30 L328.71,21.30 L329.61,21.30 L330.51,21.30 L331.42,21.30 L332.32,21.30 L333.23,21.30 L334.13,21.30 L335.03,21.30 L335.94,21.30 L336.84,21.30 L337.75,21.30 L338.65,21.30 L339.55,21.30 L340.46,21.30 L341.36,21.30 L342.27,21.30 L343.17,21.30 L344.07,21.30 L344.98,21.30 L345.88,21.30 L346.79,21.30 L347.69,21.30 L348.59,21.30 L349.50,21.30 L350.40,21.30 L351.31,21.30 L352.21,21.30 L353.11,21.30 L354.02,21.30 L354.92,21.30 L355.83,21.30 L356.73,21.30 L357.63,21.30 L358.54,21.30 L359.44,21.30 L360.35,21.30 L361.25,21.30 L362.15,21.30 L363.06,21.30 L363.96,21.30 L364.87,21.30 L365.77,21.30 L366.67,21.30 L367.58,21.30 L368.48,21.30 L369.39,21.30 L370.29,21.30 L371.19,21.30 L372.10,21.30 L373.00,21.30 L373.91,21.30 L374.81,21.30 L375.71,21.30 L376.62,21.30 L377.52,21.30 L378.43,21.30 L379.33,21.30 L380.23,21.30 L381.14,21.30 L382.04,21.30 L382.95,21.30 L383.85,21.30 L384.75,21.30 L385.66,21.30 L386.56,21.30 L387.47,21.30 L388.37,21.30 L389.27,21.30 L390.18,21.30 L391.08,21.30 L391.99,21.30 L392.89,21.30 L393.79,21.30 L394.70,21.30 L395.60,21.30 L396.51,21.30 L397.41,21.30 L398.31,21.30 L399.22,21.30 L400.12,21.30 L401.03,21.30 L401.93,21.30 L402.83,21.30 L403.74,21.30 L404.64,21.30 L405.55,21.30 L406.45,21.30" fill="none" stroke="#0000ff" stroke-width="3.4" stroke-dasharray="3.3 2.35"/>
<path d="M414.60,9.45 H37.50 V242.40 H414.60" fill="none" stroke="#484848" stroke-width="0.8"/>
<rect x="413.40" y="9.05" width="1.70" height="233.75" fill="#a6a6a6"/>
<path d="M44.85,242.40 v-2.70 M62.93,242.40 v-1.80 M81.01,242.40 v-1.80 M99.09,242.40 v-1.80 M117.17,242.40 v-1.80 M135.25,242.40 v-2.70 M153.33,242.40 v-1.80 M171.41,242.40 v-1.80 M189.49,242.40 v-1.80 M207.57,242.40 v-1.80 M225.65,242.40 v-2.70 M243.73,242.40 v-1.80 M261.81,242.40 v-1.80 M279.89,242.40 v-1.80 M297.97,242.40 v-1.80 M316.05,242.40 v-2.70 M334.13,242.40 v-1.80 M352.21,242.40 v-1.80 M370.29,242.40 v-1.80 M388.37,242.40 v-1.80 M406.45,242.40 v-2.70" stroke="#2a2a2a" stroke-width="0.8" fill="none"/>
<path d="M37.50,21.30 h3.00 M37.50,34.67 h2.00 M37.50,48.04 h2.00 M37.50,61.41 h2.00 M37.50,74.78 h3.00 M37.50,88.15 h2.00 M37.50,101.52 h2.00 M37.50,114.89 h2.00 M37.50,128.26 h3.00 M37.50,141.63 h2.00 M37.50,155.00 h2.00 M37.50,168.37 h2.00 M37.50,181.74 h3.00 M37.50,195.11 h2.00 M37.50,208.48 h2.00 M37.50,221.85 h2.00 M37.50,235.22 h3.00" stroke="#2a2a2a" stroke-width="0.8" fill="none"/>
<path d="M44.85,9.45 v4.30 M62.93,9.45 v2.60 M81.01,9.45 v2.60 M99.09,9.45 v2.60 M117.17,9.45 v2.60 M135.25,9.45 v4.30 M153.33,9.45 v2.60 M171.41,9.45 v2.60 M189.49,9.45 v2.60 M207.57,9.45 v2.60 M225.65,9.45 v4.30 M243.73,9.45 v2.60 M261.81,9.45 v2.60 M279.89,9.45 v2.60 M297.97,9.45 v2.60 M316.05,9.45 v4.30 M334.13,9.45 v2.60 M352.21,9.45 v2.60 M370.29,9.45 v2.60 M388.37,9.45 v2.60 M406.45,9.45 v4.30" stroke="#a8a8a8" stroke-width="0.6" fill="none"/>
<path d="M413.40,21.30 h-3.40 M413.40,34.67 h-1.80 M413.40,48.04 h-1.80 M413.40,61.41 h-1.80 M413.40,74.78 h-3.40 M413.40,88.15 h-1.80 M413.40,101.52 h-1.80 M413.40,114.89 h-1.80 M413.40,128.26 h-3.40 M413.40,141.63 h-1.80 M413.40,155.00 h-1.80 M413.40,168.37 h-1.80 M413.40,181.74 h-3.40 M413.40,195.11 h-1.80 M413.40,208.48 h-1.80 M413.40,221.85 h-1.80 M413.40,235.22 h-3.40" stroke="#9a9a9a" stroke-width="0.6" fill="none"/>
<circle cx="51.6" cy="177.4" r="3.6" fill="#808080"/>
<text x="62.9" y="179.7" font-family="Liberation Serif" font-weight="bold" font-size="7.1" fill="#000" stroke="#000" stroke-width="0.15">b = 0.1</text>
<circle cx="51.6" cy="190.6" r="3.6" fill="#ff8000"/>
<text x="62.9" y="192.9" font-family="Liberation Serif" font-weight="bold" font-size="7.1" fill="#000" stroke="#000" stroke-width="0.15">b = 0.2</text>
<circle cx="51.6" cy="203.7" r="3.6" fill="#800080"/>
<text x="62.9" y="206.0" font-family="Liberation Serif" font-weight="bold" font-size="7.1" fill="#000" stroke="#000" stroke-width="0.15">b = 0.3</text>
<circle cx="51.6" cy="217.0" r="3.6" fill="#000000"/>
<text x="62.9" y="219.3" font-family="Liberation Serif" font-weight="bold" font-size="7.1" fill="#000" stroke="#000" stroke-width="0.15">b = 0.4</text>
<circle cx="51.6" cy="230.6" r="3.6" fill="#ff0000"/>
<text x="62.9" y="232.9" font-family="Liberation Serif" font-weight="bold" font-size="7.1" fill="#000" stroke="#000" stroke-width="0.15">b = 0.5</text>
<text transform="translate(45.05,250.00) scale(1,1.08)" text-anchor="middle" font-family="Liberation Serif" font-size="6.2" fill="#111" stroke="#111" stroke-width="0.16" >0</text>
<text transform="translate(135.45,250.00) scale(1,1.08)" text-anchor="middle" font-family="Liberation Serif" font-size="6.2" fill="#111" stroke="#111" stroke-width="0.16" >10</text>
<text transform="translate(225.85,250.00) scale(1,1.08)" text-anchor="middle" font-family="Liberation Serif" font-size="6.2" fill="#111" stroke="#111" stroke-width="0.16" >20</text>
<text transform="translate(316.25,250.00) scale(1,1.08)" text-anchor="middle" font-family="Liberation Serif" font-size="6.2" fill="#111" stroke="#111" stroke-width="0.16" >30</text>
<text transform="translate(406.65,250.00) scale(1,1.08)" text-anchor="middle" font-family="Liberation Serif" font-size="6.2" fill="#111" stroke="#111" stroke-width="0.16" >40</text>
<text transform="translate(35.20,23.60) scale(1,1.08)" text-anchor="end" font-family="Liberation Serif" font-size="6.2" fill="#111" stroke="#111" stroke-width="0.16" >0</text>
<text transform="translate(13.90,77.08) scale(1,1.08)" font-family="Liberation Serif" font-size="6.2" fill="#111" stroke="#111" stroke-width="0.16" >−2</text>
<text transform="translate(21.80,77.08) scale(1,1.08)" font-family="Liberation Serif" font-size="6.2" fill="#111" stroke="#111" stroke-width="0.16" >×</text>
<text transform="translate(26.90,77.08) scale(1,1.08)" font-family="Liberation Serif" font-size="6.2" fill="#111" stroke="#111" stroke-width="0.16" >10</text>
<text transform="translate(32.90,75.08) scale(1,1.08)" font-family="Liberation Serif" font-size="6.2" fill="#111" stroke="#111" stroke-width="0.16" style="font-size:4.5px">6</text>
<text transform="translate(13.90,130.56) scale(1,1.08)" font-family="Liberation Serif" font-size="6.2" fill="#111" stroke="#111" stroke-width="0.16" >−4</text>
<text transform="translate(21.80,130.56) scale(1,1.08)" font-family="Liberation Serif" font-size="6.2" fill="#111" stroke="#111" stroke-width="0.16" >×</text>
<text transform="translate(26.90,130.56) scale(1,1.08)" font-family="Liberation Serif" font-size="6.2" fill="#111" stroke="#111" stroke-width="0.16" >10</text>
<text transform="translate(32.90,128.56) scale(1,1.08)" font-family="Liberation Serif" font-size="6.2" fill="#111" stroke="#111" stroke-width="0.16" style="font-size:4.5px">6</text>
<text transform="translate(13.90,184.04) scale(1,1.08)" font-family="Liberation Serif" font-size="6.2" fill="#111" stroke="#111" stroke-width="0.16" >−6</text>
<text transform="translate(21.80,184.04) scale(1,1.08)" font-family="Liberation Serif" font-size="6.2" fill="#111" stroke="#111" stroke-width="0.16" >×</text>
<text transform="translate(26.90,184.04) scale(1,1.08)" font-family="Liberation Serif" font-size="6.2" fill="#111" stroke="#111" stroke-width="0.16" >10</text>
<text transform="translate(32.90,182.04) scale(1,1.08)" font-family="Liberation Serif" font-size="6.2" fill="#111" stroke="#111" stroke-width="0.16" style="font-size:4.5px">6</text>
<text transform="translate(13.90,237.52) scale(1,1.08)" font-family="Liberation Serif" font-size="6.2" fill="#111" stroke="#111" stroke-width="0.16" >−8</text>
<text transform="translate(21.80,237.52) scale(1,1.08)" font-family="Liberation Serif" font-size="6.2" fill="#111" stroke="#111" stroke-width="0.16" >×</text>
<text transform="translate(26.90,237.52) scale(1,1.08)" font-family="Liberation Serif" font-size="6.2" fill="#111" stroke="#111" stroke-width="0.16" >10</text>
<text transform="translate(32.90,235.52) scale(1,1.08)" font-family="Liberation Serif" font-size="6.2" fill="#111" stroke="#111" stroke-width="0.16" style="font-size:4.5px">6</text>
<text x="226.1" y="6" text-anchor="middle" font-family="Liberation Serif" font-size="7.4" fill="#333" word-spacing="0.55">Λ = <tspan font-style="italic">β</tspan> = 1</text>
<text x="226" y="260.6" text-anchor="middle" font-family="Liberation Serif" font-size="6.3" fill="#222" stroke="#222" stroke-width="0.22">Mass (M)</text>
<text transform="translate(6.3,125.8) rotate(-90)" text-anchor="middle" font-family="Liberation Serif" font-size="6.4" fill="#222" stroke="#222" stroke-width="0.1">Deflection angle (<tspan font-style="italic">δ̂</tspan>)</text>
</svg>
</body></html>
